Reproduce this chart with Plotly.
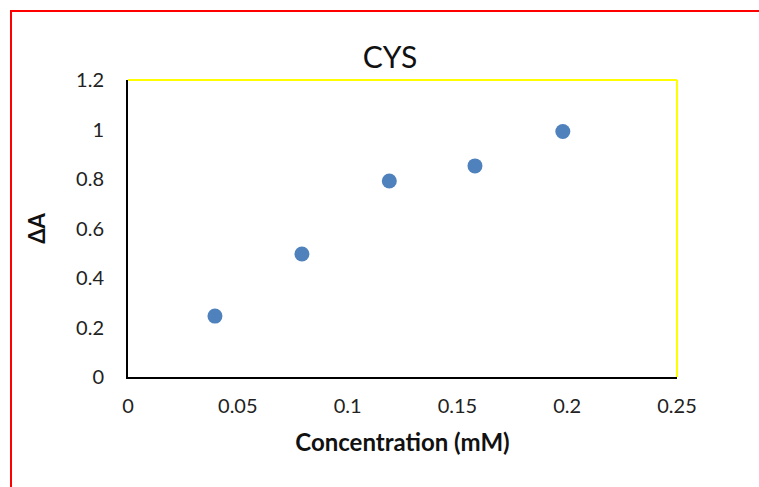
import plotly.graph_objects as go

conc = [0.0396, 0.0792, 0.119, 0.158, 0.198]
delta_a = [0.246, 0.497, 0.792, 0.853, 0.992]
x_ticks = [0, 0.05, 0.1, 0.15, 0.2, 0.25]
x_tick_text = ["0", "0.05", "0.1", "0.15", "0.2", "0.25"]
y_ticks = [0, 0.2, 0.4, 0.6, 0.8, 1, 1.2]
y_tick_text = ["0", "0.2", "0.4", "0.6", "0.8", "1", "1.2"]

FONT = "Lato, 'Open Sans', sans-serif"

fig = go.Figure()
fig.add_trace(go.Scatter(
    x=conc, y=delta_a, mode="markers",
    marker=dict(size=15, color="#4F81BD", line=dict(width=0)),
    showlegend=False,
))

fig.update_layout(
    width=759, height=487,
    margin=dict(l=128, r=82, t=80, b=110),
    paper_bgcolor="white", plot_bgcolor="white",
    font=dict(family=FONT, size=20, color="#222"),
    title=dict(text="CYS", x=390/759, xanchor="center", y=1-57/487, yanchor="middle",
               font=dict(size=30, family=FONT, color="#111")),
    xaxis=dict(range=[0, 0.25], tickvals=x_ticks, ticktext=x_tick_text,
               showgrid=False, zeroline=False, showline=True, linecolor="black", linewidth=2,
               ticks="", ticklabelstandoff=10,
               title=dict(text="<b>Concentration (mM)</b>", font=dict(size=24, family=FONT, color="#111"), standoff=18)),
    yaxis=dict(range=[0, 1.2], tickvals=y_ticks, ticktext=y_tick_text,
               showgrid=False, zeroline=False, showline=True, linecolor="black", linewidth=2,
               ticks="", ticklabelstandoff=18,
               title=dict(text="<b>ΔA</b>", font=dict(size=22, family=FONT, color="#111"), standoff=24)),
    shapes=[
        dict(type="line", xref="paper", yref="paper", x0=0, x1=1, y0=1, y1=1,
             line=dict(color="yellow", width=2)),
        dict(type="line", xref="paper", yref="paper", x0=1, x1=1, y0=0, y1=1,
             line=dict(color="yellow", width=2)),
        dict(type="rect", xref="paper", yref="paper",
             x0=(11-128)/549, x1=(800-128)/549, y0=(377-560)/297, y1=(377-11)/297,
             line=dict(color="red", width=2), fillcolor="rgba(0,0,0,0)", layer="above"),
    ],
)

fig.write_html("out.html")
